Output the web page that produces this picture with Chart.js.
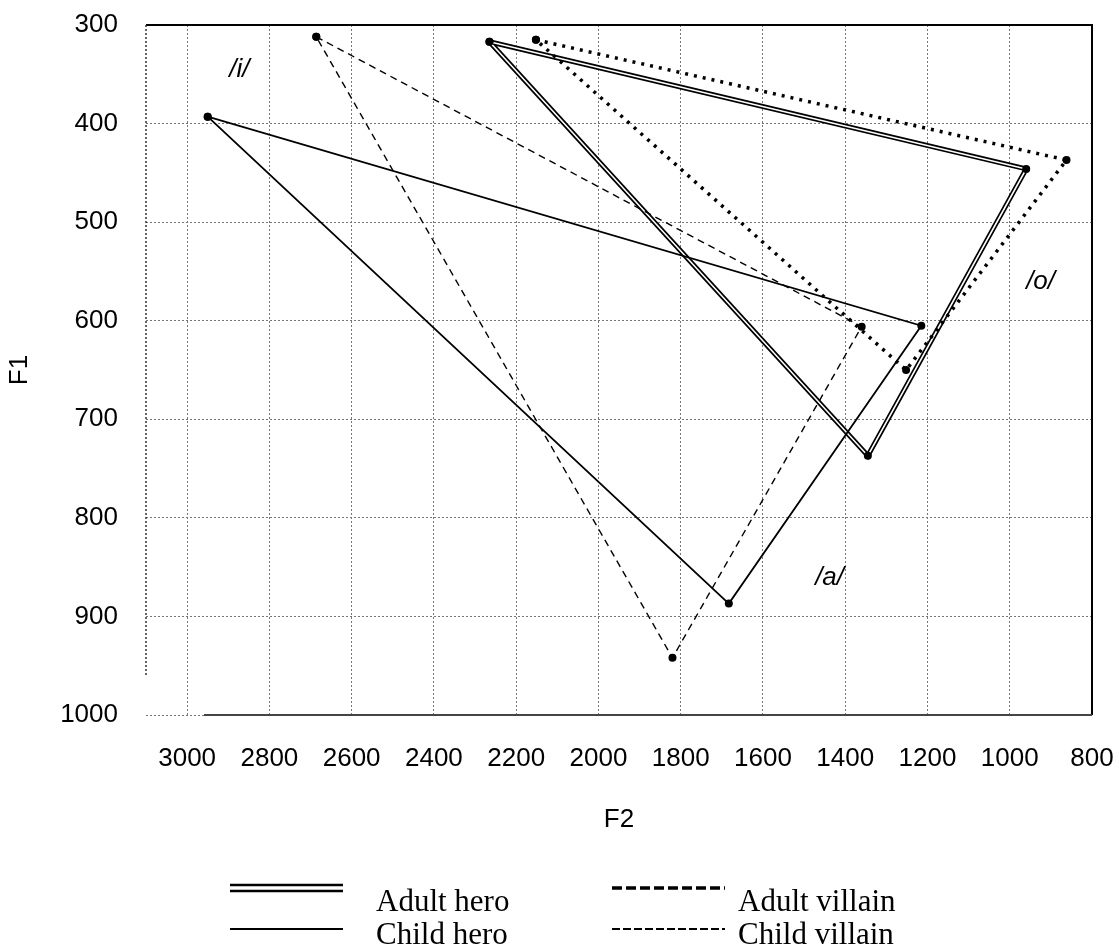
<!DOCTYPE html>
<html>
<head>
<meta charset="utf-8">
<script src="https://cdn.jsdelivr.net/npm/chart.js@4/dist/chart.umd.min.js"></script>
<style>
  body { margin: 0; background: #fff; }
  #wrap { width: 1119px; height: 951px; }
</style>
</head>
<body>
<div id="wrap"><canvas id="myChart" width="1119" height="951"></canvas></div>
<script>
// vowel order in each triangle: /i/, /o/, /a/
const vowels = ['/i/', '/o/', '/a/'];

const adultHeroF2 = [2265, 960, 1345];
const adultHeroF1 = [317, 446, 737];
const childHeroF2 = [2950, 1215, 1683];
const childHeroF1 = [393, 605, 887];
const adultVillainF2 = [2152, 862, 1252];
const adultVillainF1 = [315, 437, 650];
const childVillainF2 = [2686, 1360, 1820];
const childVillainF1 = [312, 606, 942];

// vowel labels written in the plot
const labelF2 = [2873, 925, 1438];
const labelF1 = [345, 560, 861];

const xTicks = [3000, 2800, 2600, 2400, 2200, 2000, 1800, 1600, 1400, 1200, 1000, 800];

// close each triangle by going back to the first vowel
const tri = (f2, f1) => f2.concat(f2[0]).map((x, i) => ({ x: x, y: f1.concat(f1[0])[i] }));

const axisFont = { family: 'Liberation Sans, Arial, sans-serif', size: 26 };

const legendItems = [
    { label: 'Adult hero', col: 0, row: 0, style: 'double' },
    { label: 'Child hero', col: 0, row: 1, style: 'solid' },
    { label: 'Adult villain', col: 1, row: 0, style: 'dotted' },
    { label: 'Child villain', col: 1, row: 1, style: 'dashed' }
];

const extras = {
    id: 'extras',
    afterDraw(chart) {
        const { ctx, chartArea: a, scales } = chart;
        ctx.save();
        // frame
        ctx.lineCap = 'butt';
        ctx.strokeStyle = '#000';
        ctx.lineWidth = 2;
        ctx.beginPath();
        ctx.moveTo(a.left, a.top); ctx.lineTo(a.right, a.top); ctx.lineTo(a.right, a.bottom);
        ctx.stroke();
        ctx.strokeStyle = '#444';
        ctx.beginPath();
        ctx.moveTo(a.left + 58, a.bottom); ctx.lineTo(a.right, a.bottom);
        ctx.stroke();
        ctx.setLineDash([2, 2]);
        ctx.lineWidth = 1.5;
        ctx.strokeStyle = '#333';
        ctx.beginPath();
        ctx.moveTo(a.left, a.top); ctx.lineTo(a.left, a.bottom - 40);
        ctx.stroke();
        ctx.setLineDash([]);

        // vowel labels
        ctx.fillStyle = '#000';
        ctx.font = 'italic 26px Liberation Sans, Arial, sans-serif';
        ctx.textAlign = 'center';
        ctx.textBaseline = 'middle';
        vowels.forEach((v, i) => {
            ctx.fillText(v, scales.x.getPixelForValue(labelF2[i]), scales.y.getPixelForValue(labelF1[i]));
        });

        // legend
        ctx.font = '31px Liberation Serif, Times New Roman, serif';
        ctx.textAlign = 'left';
        ctx.textBaseline = 'alphabetic';
        legendItems.forEach(it => {
            const x0 = it.col ? 612 : 230;
            const x1 = it.col ? 725 : 343;
            const y = it.row ? 929 : 888;
            ctx.strokeStyle = '#000';
            if (it.style === 'double') {
                ctx.lineWidth = 2.5;
                ctx.beginPath();
                ctx.moveTo(x0, y - 3); ctx.lineTo(x1, y - 3);
                ctx.moveTo(x0, y + 3); ctx.lineTo(x1, y + 3);
                ctx.stroke();
            } else {
                ctx.lineWidth = it.style === 'dotted' ? 3.5 : 2;
                ctx.setLineDash(it.style === 'dotted' ? [10, 4] : it.style === 'dashed' ? [8, 3] : []);
                ctx.beginPath();
                ctx.moveTo(x0, y); ctx.lineTo(x1, y);
                ctx.stroke();
                ctx.setLineDash([]);
            }
            ctx.fillText(it.label, it.col ? 738 : 376, it.row ? 944 : 911);
        });
        ctx.restore();
    }
};

const ctx = document.querySelector('#myChart').getContext('2d');
const dot = { pointRadius: 4, pointBackgroundColor: '#000', pointBorderColor: '#000', pointBorderWidth: 0 };
const config = {
    type: 'scatter',
    data: {
        datasets: [
            Object.assign({ label: 'Child villain', data: tri(childVillainF2, childVillainF1), showLine: true,
                borderColor: '#000', borderWidth: 1.4, borderDash: [7, 5], order: 1 }, dot),
            Object.assign({ label: 'Adult villain', data: tri(adultVillainF2, adultVillainF1), showLine: true,
                borderColor: '#000', borderWidth: 3.5, borderDash: [3, 6], order: 1 }, dot),
            Object.assign({ label: 'Child hero', data: tri(childHeroF2, childHeroF1), showLine: true,
                borderColor: '#000', borderWidth: 1.8, order: 1 }, dot),
            Object.assign({ data: tri(adultHeroF2, adultHeroF1), showLine: true,
                borderColor: '#fff', borderWidth: 1.6, order: 2 }, dot),
            { label: 'Adult hero', data: tri(adultHeroF2, adultHeroF1), showLine: true,
                borderColor: '#000', borderWidth: 5, pointRadius: 0, order: 3 }
        ]
    },
    options: {
        responsive: false,
        animation: false,
        layout: { autoPadding: false, padding: { left: 0, top: 25, right: 27, bottom: 116 } },
        plugins: { legend: { display: false }, tooltip: { enabled: false } },
        scales: {
            x: {
                type: 'linear',
                reverse: true,
                min: 800,
                max: 3100,
                afterBuildTicks: axis => { axis.ticks = xTicks.map(v => ({ value: v })); },
                afterFit: axis => { axis.height = 120; axis.paddingLeft = 0; axis.paddingRight = 0; },
                grid: { color: '#777', lineWidth: 1, drawTicks: false },
                border: { display: false, dash: [2, 2] },
                ticks: { color: '#000', font: axisFont, padding: 28, maxRotation: 0, callback: v => String(v) },
                title: { display: true, text: 'F2', color: '#000', font: axisFont, padding: { top: 0, bottom: 0 } }
            },
            y: {
                reverse: true,
                min: 300,
                max: 1000,
                afterFit: axis => { axis.width = 146; axis.paddingTop = 0; axis.paddingBottom = 0; },
                grid: { color: '#777', lineWidth: 1, drawTicks: false },
                border: { display: false, dash: [2, 2] },
                ticks: { color: '#000', font: axisFont, padding: 28, stepSize: 100, callback: v => String(v) },
                title: { display: true, text: 'F1', color: '#000', font: axisFont, padding: { top: 4, bottom: 0 } }
            }
        }
    },
    plugins: [extras]
};
new Chart(ctx, config);
</script>
</body>
</html>
